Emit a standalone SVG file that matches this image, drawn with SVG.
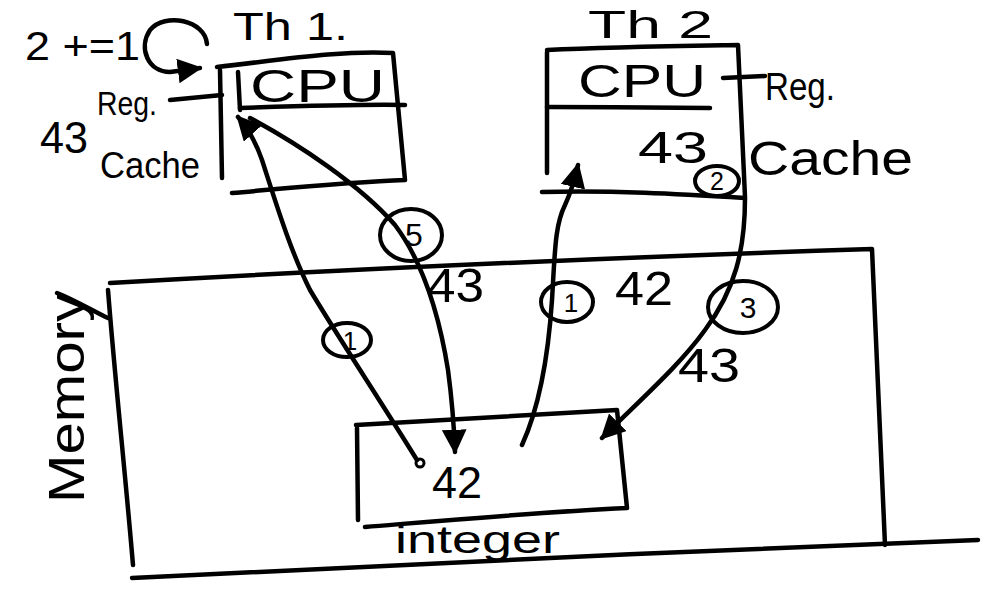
<svg xmlns="http://www.w3.org/2000/svg" width="1000" height="600" viewBox="0 0 1000 600">
<defs>
<style>
.s{fill:none;stroke:#000;stroke-width:4.5;stroke-linecap:round;stroke-linejoin:round}
.t{font-family:"Liberation Sans",Arial,sans-serif;fill:#000}
.c{fill:none;stroke:#000;stroke-width:4}
</style>
<marker id="ah" viewBox="0 0 10 10" refX="9" refY="5" markerWidth="5.5" markerHeight="5.5" orient="auto" markerUnits="strokeWidth">
<path d="M0,0 L10,5 L0,10 z" fill="#000"/>
</marker>
</defs>
<rect width="1000" height="600" fill="#fff"/>

<g id="counter">
<text class="t" x="25" y="60" font-size="40" textLength="115" lengthAdjust="spacingAndGlyphs">2 +=1</text>
<path class="s" d="M207,44 C205,20 165,12 150,30 C138,48 148,72 170,72 L200,68" marker-end="url(#ah)"/>
</g>

<g id="thread1">
<text class="t" x="233" y="40" font-size="38" textLength="115" lengthAdjust="spacingAndGlyphs">Th 1.</text>
<path class="s" d="M217,67 C280,60 340,50 393,53 L405,180 C350,182 290,188 232,193"/>
<path class="s" d="M220,70 L222,178"/>
<path class="s" d="M238,72 L240,110"/>
<path class="s" d="M240,108 C300,106 360,104 405,105"/>
<text class="t" x="250" y="102" font-size="46" textLength="135" lengthAdjust="spacingAndGlyphs">CPU</text>
<path class="s" d="M170,100 L222,95"/>
<text class="t" x="97" y="115" font-size="34" textLength="60" lengthAdjust="spacingAndGlyphs">Reg.</text>
<text class="t" x="40" y="153" font-size="44" textLength="48" lengthAdjust="spacingAndGlyphs">43</text>
<text class="t" x="100" y="178" font-size="36" textLength="100" lengthAdjust="spacingAndGlyphs">Cache</text>
</g>

<g id="thread2">
<text class="t" x="588" y="38" font-size="38" textLength="125" lengthAdjust="spacingAndGlyphs">Th 2</text>
<path class="s" d="M547,50 C610,47 680,46 738,45 L745,197"/>
<path class="s" d="M547,52 L547,173"/>
<path class="s" d="M547,107 C600,107 660,108 710,108"/>
<path class="s" d="M542,192 C610,190 680,194 745,198"/>
<text class="t" x="578" y="97" font-size="46" textLength="128" lengthAdjust="spacingAndGlyphs">CPU</text>
<path class="s" d="M723,78 L765,76"/>
<text class="t" x="765" y="100" font-size="38" textLength="70" lengthAdjust="spacingAndGlyphs">Reg.</text>
<text class="t" x="638" y="163" font-size="44" textLength="70" lengthAdjust="spacingAndGlyphs">43</text>
<text class="t" x="748" y="175" font-size="48" textLength="165" lengthAdjust="spacingAndGlyphs">Cache</text>
<ellipse class="c" cx="717" cy="181" rx="22" ry="15"/>
<text class="t" x="717" y="190" font-size="25" text-anchor="middle">2</text>
</g>

<g id="memory">
<path class="s" d="M110,283 C300,272 600,258 872,249 L885,545"/>
<path class="s" d="M108,290 C115,380 125,470 133,565"/>
<path class="s" d="M132,578 C400,565 700,550 978,540"/>
<path class="s" d="M57,293 C75,300 95,312 108,318"/>
<text class="t" transform="translate(84,398) rotate(-90)" font-size="50" text-anchor="middle" textLength="210" lengthAdjust="spacingAndGlyphs">Memory</text>
</g>

<g id="integer">
<path class="s" d="M356,425 C450,420 540,415 617,410 L627,508 C540,512 450,520 365,527"/>
<path class="s" d="M357,428 L358,520"/>
<text class="t" x="432" y="498" font-size="44" textLength="50" lengthAdjust="spacingAndGlyphs">42</text>
<text class="t" x="395" y="553" font-size="38" textLength="165" lengthAdjust="spacingAndGlyphs">integer</text>
</g>

<g id="connectors">
<circle cx="420" cy="463" r="4" fill="none" stroke="#000" stroke-width="3"/>
<path class="s" d="M417,460 C380,400 340,340 310,290 C290,250 275,200 262,160 C255,140 248,128 238,117" marker-end="url(#ah)"/>
<path class="s" d="M250,118 C300,145 360,185 395,225 C425,265 440,320 448,370 C452,400 454,425 455,452" marker-end="url(#ah)"/>
<path class="s" d="M522,445 C538,410 548,360 552,300 C555,250 555,225 565,205 C572,190 575,178 578,165" marker-end="url(#ah)"/>
<path class="s" d="M745,198 C745,250 735,290 705,330 C680,365 640,400 602,438" marker-end="url(#ah)"/>
</g>

<g id="labels">
<ellipse class="c" cx="347" cy="340" rx="24" ry="17"/>
<text class="t" x="350" y="350" font-size="26" text-anchor="middle">1</text>
<ellipse class="c" cx="411" cy="235" rx="31" ry="26"/>
<text class="t" x="414" y="246" font-size="32" text-anchor="middle">5</text>
<text class="t" x="427" y="302" font-size="48" textLength="57" lengthAdjust="spacingAndGlyphs">43</text>
<ellipse class="c" cx="567" cy="302" rx="26" ry="20"/>
<text class="t" x="571" y="312" font-size="26" text-anchor="middle">1</text>
<text class="t" x="615" y="305" font-size="48" textLength="58" lengthAdjust="spacingAndGlyphs">42</text>
<ellipse class="c" cx="743" cy="307" rx="35" ry="26"/>
<text class="t" x="748" y="318" font-size="30" text-anchor="middle">3</text>
<text class="t" x="678" y="382" font-size="48" textLength="62" lengthAdjust="spacingAndGlyphs">43</text>
</g>
</svg>
